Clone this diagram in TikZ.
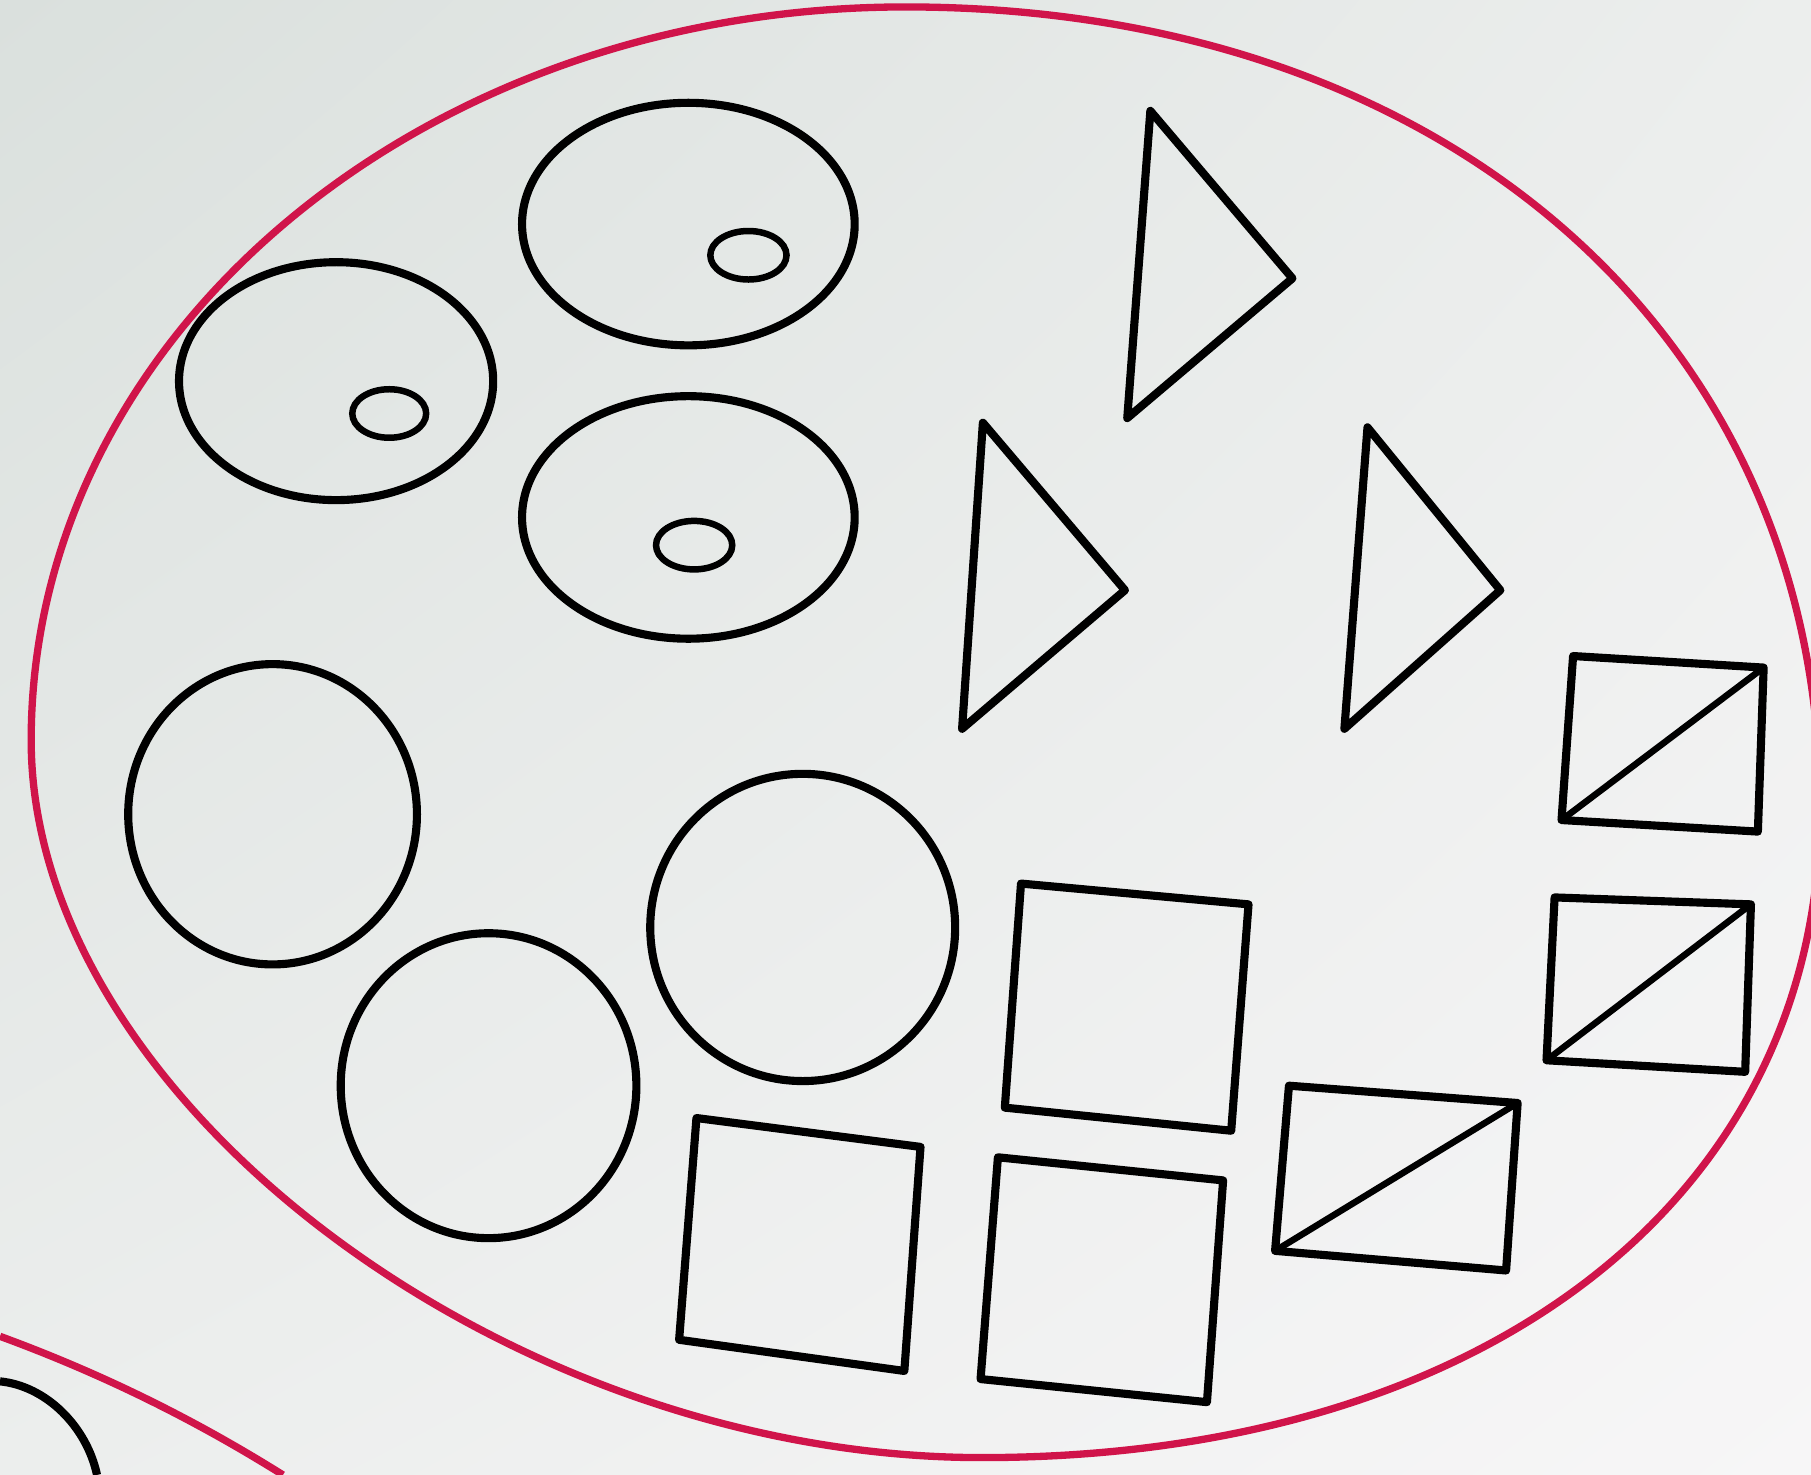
\documentclass[tikz,border=0pt]{standalone}
\usepackage{tikz}
\usetikzlibrary{shadings}
\definecolor{ovalred}{HTML}{D0144A}
\definecolor{paperdark}{HTML}{DAE0DD}
\definecolor{papermid}{HTML}{ECEEED}
\definecolor{paperlight}{HTML}{F7F6F7}
\tikzset{
  outline/.style={draw=black, line width=2pt, line join=round},
  eyeline/.style={draw=black, line width=1.6pt},
  cutline/.style={draw=black, line width=1.6pt},
  setline/.style={draw=ovalred, line width=1.8pt},
}

\begin{document}
\begin{tikzpicture}[x=0.1mm, y=-0.1mm]
    \useasboundingbox (0,0) rectangle (1568,1277);
    \shade[upper left=paperdark, upper right=papermid, lower left=papermid, lower right=paperlight]
      (0,0) rectangle (1568,1277);
    % the set
    \draw[setline] (784,6) .. controls (1258,6) and (1576,296) .. (1576,700)
      .. controls (1576,1037) and (1286,1262) .. (850,1262)
      .. controls (438,1262) and (27,951) .. (27,641)
      .. controls (27,290) and (365,6) .. (784,6) -- cycle;
    % ringed ovals
    \draw[outline] (291,330) ellipse [x radius=136, y radius=103];
    \draw[eyeline] (337,358) ellipse [x radius=32, y radius=21];
    \draw[outline] (596,194) ellipse [x radius=144, y radius=105];
    \draw[eyeline] (648,221) ellipse [x radius=33, y radius=21];
    \draw[outline] (596,448) ellipse [x radius=144, y radius=105];
    \draw[eyeline] (601,472) ellipse [x radius=33, y radius=21];
    % triangles
    \draw[outline] (996,96) -- (1119,241) -- (976,362) -- cycle;
    \draw[outline] (851,366) -- (974,511) -- (833,631) -- cycle;
    \draw[outline] (1184,370) -- (1299,511) -- (1164,631) -- cycle;
    % circles
    \draw[outline] (236,705) ellipse [x radius=125, y radius=130];
    \draw[outline] (423,940) ellipse [x radius=128, y radius=132];
    \draw[outline] (695,803) ellipse [x radius=132, y radius=133];
    % squares
    \draw[outline] (884,765) -- (1081,783) -- (1066,979) -- (870,959) -- cycle;
    \draw[outline] (603,968) -- (797,993) -- (783,1187) -- (588,1160) -- cycle;
    \draw[outline] (864,1002) -- (1059,1022) -- (1045,1214) -- (849,1194) -- cycle;
    % split squares
    \draw[outline] (1116,940) -- (1314,955) -- (1304,1100) -- (1104,1083) -- cycle;
    \draw[cutline] (1104,1083) -- (1314,955);
    \draw[outline] (1362,568) -- (1527,578) -- (1522,720) -- (1352,710) -- cycle;
    \draw[cutline] (1352,710) -- (1527,578);
    \draw[outline] (1346,777) -- (1516,783) -- (1511,928) -- (1339,918) -- cycle;
    \draw[cutline] (1339,918) -- (1516,783);
    % next set, cut off
    \draw[setline] (0,1157) .. controls (90,1190) and (170,1230) .. (245,1277);
    \draw[outline] (0,1196) .. controls (40,1200) and (75,1235) .. (84,1277);
\end{tikzpicture}
\end{document}
